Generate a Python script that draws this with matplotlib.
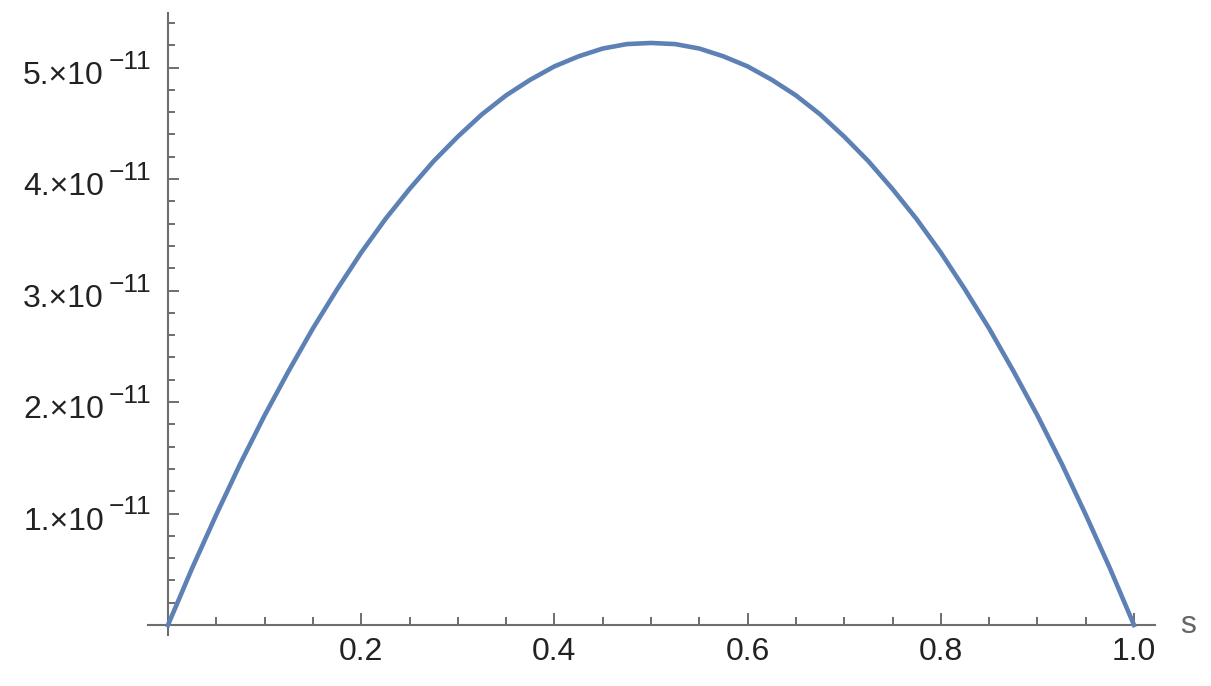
import matplotlib
matplotlib.use("Agg")
import matplotlib.pyplot as plt
from matplotlib.ticker import MultipleLocator

# values (y in units of 1e-11)
s_vals = [0.0, 0.025, 0.05, 0.075, 0.1, 0.125, 0.15, 0.175, 0.2, 0.225,
          0.25, 0.275, 0.3, 0.325, 0.35, 0.375, 0.4, 0.425, 0.45, 0.475,
          0.5, 0.525, 0.55, 0.575, 0.6, 0.625, 0.65, 0.675, 0.7, 0.725,
          0.75, 0.775, 0.8, 0.825, 0.85, 0.875, 0.9, 0.925, 0.95, 0.975, 1.0]
y_vals = [0.0, 0.51, 0.99, 1.45, 1.88, 2.28, 2.66, 3.01, 3.34, 3.64,
          3.91, 4.16, 4.38, 4.58, 4.75, 4.89, 5.01, 5.10, 5.17, 5.21,
          5.22, 5.21, 5.17, 5.10, 5.01, 4.89, 4.75, 4.58, 4.38, 4.16,
          3.91, 3.64, 3.34, 3.01, 2.66, 2.28, 1.88, 1.45, 0.99, 0.51, 0.0]
y_vals = [v * 1e-11 for v in y_vals]

x_ticks = [0.2, 0.4, 0.6, 0.8, 1.0]
x_labels = ["0.2", "0.4", "0.6", "0.8", "1.0"]
y_ticks = [1e-11, 2e-11, 3e-11, 4e-11, 5e-11]
y_mant = ["1.", "2.", "3.", "4.", "5."]
y_exp = "\u221211"

plt.rcParams["font.family"] = ["Liberation Sans", "DejaVu Sans"]

axis_col = "#6e6e6e"
text_col = "#222222"
px = 0.72  # points per pixel at dpi 100

fig = plt.figure(figsize=(12.11, 6.86), dpi=100)
ax = fig.add_axes([148 / 1211, 51 / 686, (1155 - 148) / 1211, (635 - 13) / 686])

ax.plot(s_vals, y_vals, color="#5E81B5", lw=3.3, clip_on=False, zorder=3)

ax.set_xlim(-20 / 966, 1 + 21 / 966)
ax.set_ylim(-10 / 111.5 * 1e-11, 612 / 111.5 * 1e-11)

for side in ["top", "right"]:
    ax.spines[side].set_visible(False)
ax.spines["left"].set_position(("data", 0))
ax.spines["bottom"].set_position(("data", 0))
for side in ["left", "bottom"]:
    ax.spines[side].set_color(axis_col)
    ax.spines[side].set_linewidth(1.5)

ax.set_xticks(x_ticks, x_labels)
ax.set_yticks(y_ticks, [""] * len(y_ticks))
ax.xaxis.set_minor_locator(MultipleLocator(0.05))
ax.yaxis.set_minor_locator(MultipleLocator(0.2e-11))

ax.tick_params(axis="x", which="major", direction="in", length=9, width=1.4,
               color=axis_col, labelsize=23, labelcolor=text_col, pad=9)
ax.tick_params(axis="x", which="minor", direction="in", length=6, width=1.4,
               color=axis_col)
ax.tick_params(axis="y", which="major", direction="in", length=8, width=1.4,
               color=axis_col)
ax.tick_params(axis="y", which="minor", direction="in", length=5, width=1.4,
               color=axis_col)

# Mathematica style y labels: "5.x10" with a large raised "-11"
for yv, m in zip(y_ticks, y_mant):
    ax.annotate(m + "\u00d710", xy=(0, yv), xycoords="data",
                xytext=(-64 * px, -8 * px), textcoords="offset points",
                ha="right", va="center", fontsize=23, color=text_col)
    ax.annotate(y_exp, xy=(0, yv), xycoords="data",
                xytext=(-17 * px, -1 * px), textcoords="offset points",
                ha="right", va="baseline", fontsize=19, color=text_col)

# axis label at the right end of the s axis
ax.text(1.0 + 46 / 966, 0, "s", fontsize=23, color="#666666",
        ha="left", va="center", clip_on=False)

fig.savefig("out.png", dpi=100, facecolor="white")
